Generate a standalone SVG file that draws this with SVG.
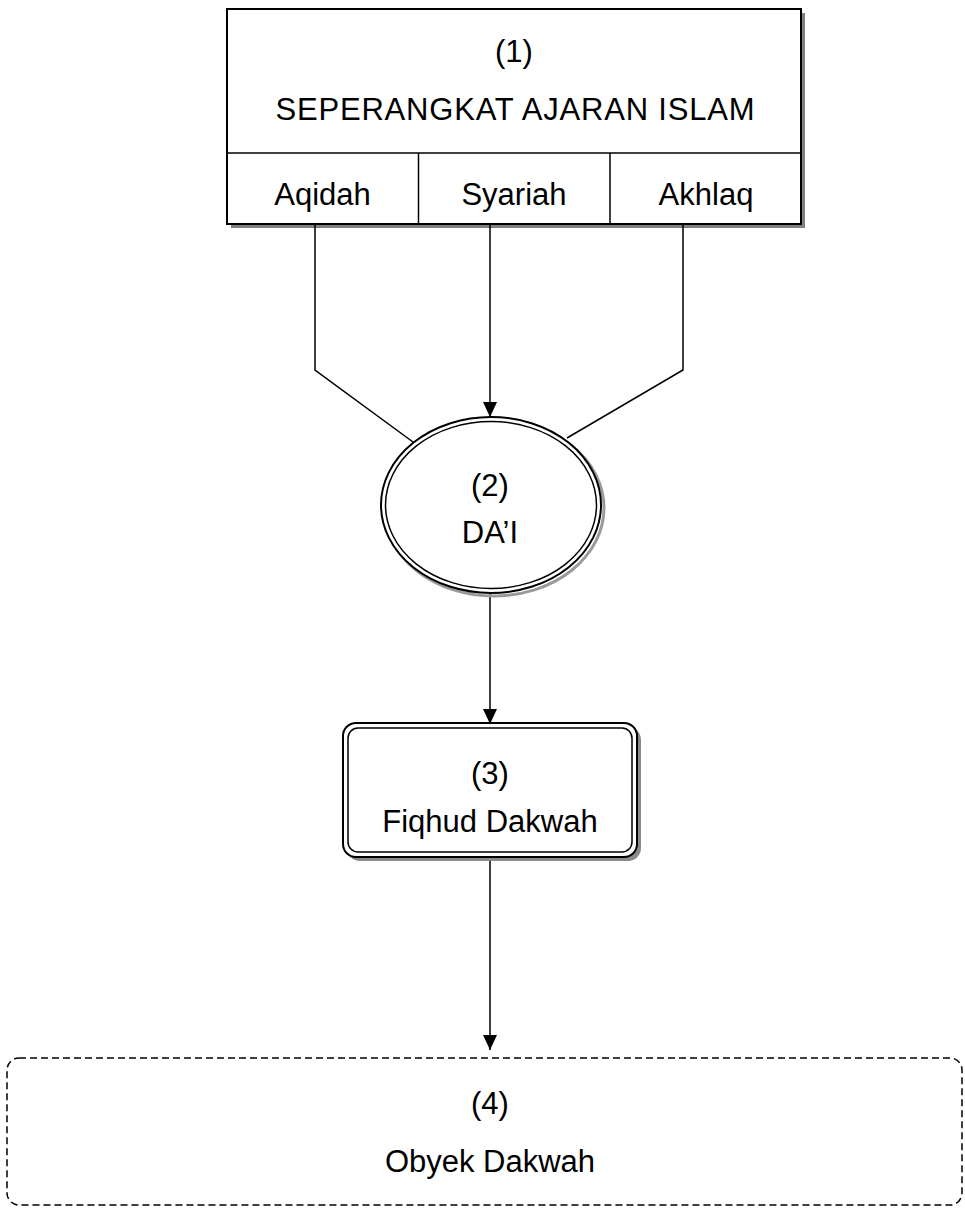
<svg xmlns="http://www.w3.org/2000/svg" width="965" height="1214" viewBox="0 0 965 1214">
<style>
text{font-family:"Liberation Sans",Arial,sans-serif;font-size:31px;fill:#000;text-anchor:middle}
.ln{fill:none;stroke:#000;stroke-width:1.5}
.sh{fill:#808080;stroke:none}
</style>
<defs>
<marker id="ah" viewBox="0 0 15 14" refX="15" refY="7" markerWidth="15" markerHeight="14" markerUnits="userSpaceOnUse" orient="auto">
<path d="M0,0 L15,7 L0,14 Z" fill="#000"/>
</marker>
</defs>
<rect width="965" height="1214" fill="#fff"/>
<g id="node1">
<rect x="231" y="13" width="574" height="215" class="sh"/>
<rect x="227" y="9" width="574" height="215" fill="#fff" stroke="#000" stroke-width="2"/>
<line x1="227" y1="153" x2="801" y2="153" class="ln" stroke-width="2"/>
<line x1="418.5" y1="153" x2="418.5" y2="224" class="ln"/>
<line x1="610" y1="153" x2="610" y2="224" class="ln"/>
<text x="514" y="62">(1)</text>
<text x="515" y="120" textLength="479" lengthAdjust="spacing">SEPERANGKAT AJARAN ISLAM</text>
<text x="322.5" y="205">Aqidah</text>
<text x="514" y="205">Syariah</text>
<text x="706" y="205">Akhlaq</text>
</g>
<g id="connectors">
<polyline points="315,224 315,370 413,442" class="ln"/>
<polyline points="683,224 683,370 567,438" class="ln"/>
<line x1="490" y1="224" x2="490" y2="417" class="ln" marker-end="url(#ah)"/>
<line x1="490" y1="593" x2="490" y2="724" class="ln" marker-end="url(#ah)"/>
<line x1="490" y1="857" x2="490" y2="1050" class="ln" marker-end="url(#ah)"/>
</g>
<g id="node2">
<ellipse cx="494" cy="508" rx="110" ry="88" fill="none" stroke="#9a9a9a" stroke-width="3"/>
<ellipse cx="491" cy="505" rx="110" ry="88" fill="#fff" stroke="#000" stroke-width="2"/>
<ellipse cx="491" cy="505" rx="105.5" ry="83.5" fill="none" stroke="#000" stroke-width="1.5"/>
<text x="490" y="496">(2)</text>
<text x="490" y="543">DA’I</text>
</g>
<g id="node3">
<rect x="347" y="727" width="294" height="134" rx="13" fill="#8a8a8a"/>
<rect x="343" y="723" width="294" height="134" rx="13" fill="#fff" stroke="#000" stroke-width="2"/>
<rect x="348" y="728" width="284" height="124" rx="10" fill="none" stroke="#000" stroke-width="1.5"/>
<text x="490" y="784">(3)</text>
<text x="490" y="832">Fiqhud Dakwah</text>
</g>
<g id="node4">
<rect x="7" y="1058" width="955" height="147" rx="12" fill="none" stroke="#000" stroke-width="1.5" stroke-dasharray="7,4"/>
<text x="490" y="1114">(4)</text>
<text x="490" y="1172">Obyek Dakwah</text>
</g>
</svg>
